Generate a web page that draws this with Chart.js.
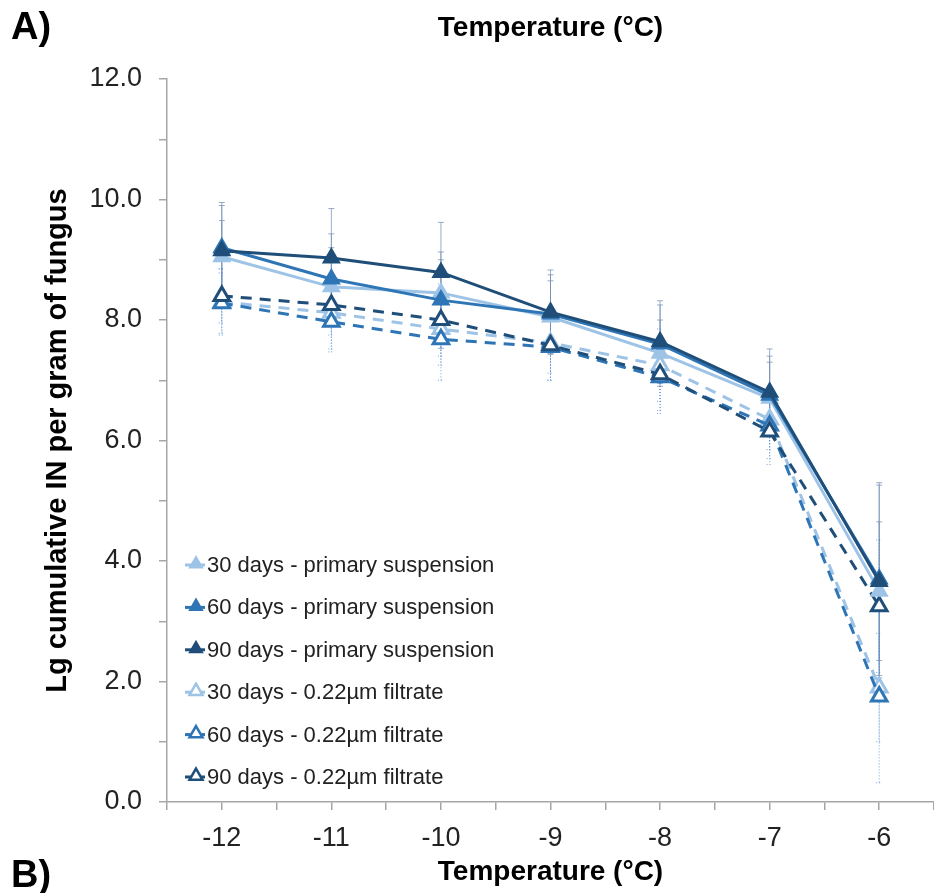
<!DOCTYPE html>
<html>
<head>
<meta charset="utf-8">
<script src="https://cdn.jsdelivr.net/npm/chart.js@4.4.1/dist/chart.umd.min.js"></script>
<style>
body { margin: 0; background: #fff; }
#wrap { position: relative; width: 934px; height: 893px; overflow: hidden; }
.panel { position: absolute; left: 11px; font: bold 38px "Liberation Sans", Arial, sans-serif; color: #000; line-height: 1.15; }
</style>
</head>
<body>
<div id="wrap">
  <canvas id="myChart" width="934" height="893"></canvas>
  <div class="panel" style="top:5px">A)</div>
  <div class="panel" style="top:853px">B)</div>
</div>
<script>
// temperatures (°C)
var temps = [-12, -11, -10, -9, -8, -7, -6]

// Lg cumulative IN per gram of fungus
var prim30 = [9.05, 8.55, 8.45, 8.05, 7.45, 6.7, 3.5]
var prim60 = [9.2, 8.68, 8.33, 8.1, 7.6, 6.75, 3.7]
var prim90 = [9.15, 9.03, 8.79, 8.13, 7.64, 6.8, 3.66]
var filt30 = [8.3, 8.12, 7.85, 7.62, 7.25, 6.35, 1.9]
var filt60 = [8.28, 7.97, 7.68, 7.55, 7.05, 6.25, 1.75]
var filt90 = [8.4, 8.25, 8.0, 7.58, 7.1, 6.15, 3.25]

// error bars (+/-)
var err30p = [0.6, 0.65, 0.55, 0.6, 0.55, 0.6, 1.15]
var err60p = [0.7, 0.75, 0.8, 0.65, 0.65, 0.65, 1.6]
var err90p = [0.8, 0.82, 0.83, 0.7, 0.68, 0.72, 1.6]
var err30f = [0.55, 0.6, 0.6, 0.5, 0.6, 0.5, 0.9]
var err60f = [0.5, 0.5, 0.68, 0.55, 0.6, 0.55, 1.43]
var err90f = [0.45, 0.5, 0.6, 0.58, 0.6, 0.55, 1.1]

var labels = ["30 days - primary suspension", "60 days - primary suspension", "90 days - primary suspension",
  "30 days - 0.22µm filtrate", "60 days - 0.22µm filtrate", "90 days - 0.22µm filtrate"]

var yTicks = [0, 2, 4, 6, 8, 10, 12]

var light = "#9dc3e6", mid = "#2e75b6", dark = "#1f4e79"

function pts(vals) {
  return vals.map(function(v, i) { return {x: temps[i], y: v} })
}

function ds(i, vals, errs, color, open, ord) {
  return {
    label: labels[i],
    data: pts(vals),
    errs: errs,
    open: open,
    order: ord,
    borderColor: color,
    backgroundColor: open ? "#fff" : color,
    pointBackgroundColor: open ? "#fff" : color,
    pointBorderColor: color,
    pointStyle: "triangle",
    pointRadius: 9,
    pointBorderWidth: open ? 3 : 2,
    borderWidth: 3,
    borderDash: open ? [11, 8] : [],
    tension: 0,
    fill: false
  }
}

var errorBars = {
  id: "errorBars",
  beforeDatasetsDraw: function(chart) {
    var ctx = chart.ctx
    var xs = chart.scales.x, ys = chart.scales.y
    ctx.save()
    chart.data.datasets.forEach(function(d) {
      ctx.strokeStyle = d.open ? "rgba(80,140,210,0.8)" : "rgba(120,145,180,0.75)"
      ctx.lineWidth = 1
      ctx.setLineDash(d.open ? [1, 2] : [])
      d.data.forEach(function(p, i) {
        var x = xs.getPixelForValue(p.x)
        var y1 = ys.getPixelForValue(p.y + d.errs[i])
        var y2 = ys.getPixelForValue(p.y - d.errs[i])
        ctx.beginPath()
        ctx.moveTo(x, y1); ctx.lineTo(x, y2)
        ctx.moveTo(x - 3, y1); ctx.lineTo(x + 3, y1)
        ctx.moveTo(x - 3, y2); ctx.lineTo(x + 3, y2)
        ctx.stroke()
      })
    })
    ctx.restore()
  }
}

function tri(ctx, x, y, r) {
  ctx.beginPath()
  ctx.moveTo(x, y - r)
  ctx.lineTo(x + r * 0.866, y + r * 0.5)
  ctx.lineTo(x - r * 0.866, y + r * 0.5)
  ctx.closePath()
}

var boxLegend = {
  id: "boxLegend",
  afterDraw: function(chart) {
    var ctx = chart.ctx
    var a = chart.chartArea
    var x0 = a.left + 18
    var yStart = a.bottom - 237
    ctx.save()
    ctx.font = "22px 'Liberation Sans', Arial, sans-serif"
    ctx.textBaseline = "middle"
    chart.data.datasets.forEach(function(d, i) {
      var y = yStart + i * 42.4
      ctx.strokeStyle = d.borderColor
      ctx.lineWidth = 3
      ctx.setLineDash([])
      ctx.beginPath()
      ctx.moveTo(x0, y); ctx.lineTo(x0 + 20, y)
      ctx.stroke()
      tri(ctx, x0 + 11, y - 1, 7.5)
      ctx.fillStyle = d.open ? "#fff" : d.borderColor
      ctx.fill()
      ctx.lineWidth = d.open ? 2.5 : 1.5
      ctx.stroke()
      ctx.fillStyle = "#222"
      ctx.fillText(d.label, x0 + 22, y + 1)
    })
    ctx.restore()
  }
}

Chart.defaults.font.family = "'Liberation Sans', Arial, sans-serif"
Chart.defaults.color = "#222"

var axisGray = "#a6a6a6"

var chart = new Chart("myChart", {
  type: "line",
  data: {
    datasets: [
      ds(0, prim30, err30p, light, false, 3),
      ds(1, prim60, err60p, mid, false, 2),
      ds(2, prim90, err90p, dark, false, 1),
      ds(3, filt30, err30f, light, true, 6),
      ds(4, filt60, err60f, mid, true, 5),
      ds(5, filt90, err90f, dark, true, 4)
    ]
  },
  options: {
    responsive: false,
    animation: false,
    devicePixelRatio: 1,
    layout: { autoPadding: false, padding: { left: 0, top: 0, bottom: 0, right: -3 } },
    plugins: { legend: { display: false }, tooltip: { enabled: false } },
    scales: {
      x: {
        type: "linear",
        position: "bottom",
        min: -12.5, max: -5.5,
        afterFit: function(s) { s.height = 91; s.paddingRight = 0; s.paddingLeft = 0 },
        ticks: {
          stepSize: 0.5, autoSkip: false, maxRotation: 0, padding: 12,
          font: { size: 27 },
          callback: function(v) { return Number.isInteger(v) ? String(v) : "" }
        },
        grid: { drawOnChartArea: false, tickLength: 8, color: axisGray, lineWidth: 1.5 },
        border: { color: axisGray, width: 1.5 },
        title: { display: true, text: "Temperature (°C)", font: { size: 28, weight: "bold" }, color: "#000", padding: { top: 0, bottom: 4 } }
      },
      x2: {
        type: "linear",
        position: "top",
        min: -12.5, max: -5.5,
        afterFit: function(s) { s.height = 79; s.paddingRight = 0; s.paddingLeft = 0 },
        ticks: { display: false },
        grid: { display: false, drawTicks: false },
        border: { display: false },
        title: { display: true, text: "Temperature (°C)", font: { size: 28, weight: "bold" }, color: "#000", padding: { top: 11, bottom: 0 } }
      },
      y: {
        min: 0, max: 12,
        afterFit: function(s) { s.width = 167 },
        afterBuildTicks: function(s) {
          var t = []
          for (var v = 0; v <= 12; v++) t.push({ value: v })
          s.ticks = t
        },
        ticks: {
          padding: 17, font: { size: 27 },
          callback: function(v) { return yTicks.indexOf(v) >= 0 ? v.toFixed(1) : "" }
        },
        grid: { drawOnChartArea: false, tickLength: 8, color: axisGray, lineWidth: 1.5 },
        border: { color: axisGray, width: 1.5 },
        title: { display: true, text: "Lg cumulative IN per gram of fungus", font: { size: 29, weight: "bold" }, color: "#000", padding: { top: 41, bottom: 0 } }
      }
    }
  },
  plugins: [errorBars, boxLegend]
})
</script>
</body>
</html>
